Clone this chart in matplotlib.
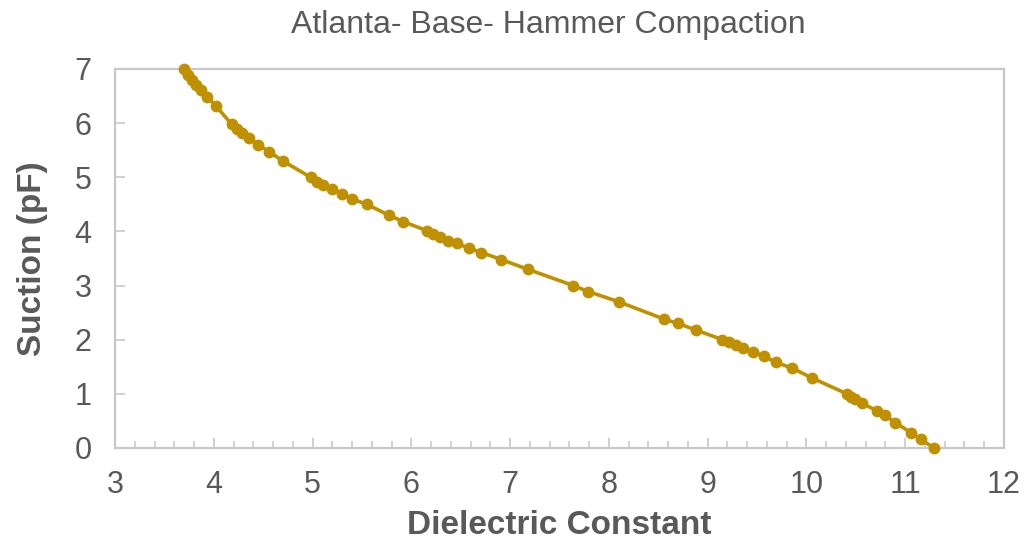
import matplotlib
matplotlib.use("Agg")
import matplotlib.pyplot as plt
from matplotlib.ticker import MultipleLocator

plt.rcParams['font.family'] = ['Liberation Sans', 'DejaVu Sans']

# Dielectric constant vs. suction measurements
dielectric = [3.70, 3.74, 3.78, 3.82, 3.87, 3.93, 4.02, 4.18, 4.23, 4.29, 4.36,
              4.45, 4.56, 4.70, 4.98, 5.04, 5.11, 5.20, 5.30, 5.40, 5.55, 5.77,
              5.92, 6.16, 6.22, 6.29, 6.37, 6.46, 6.58, 6.71, 6.91, 7.18, 7.64,
              7.79, 8.10, 8.56, 8.70, 8.88, 9.15, 9.22, 9.29, 9.36, 9.46, 9.57,
              9.69, 9.85, 10.06, 10.41, 10.45, 10.49, 10.56, 10.71, 10.80, 10.90,
              11.06, 11.16, 11.29]
suction = [7.00, 6.89, 6.80, 6.70, 6.61, 6.49, 6.32, 5.98, 5.90, 5.81, 5.72,
           5.60, 5.47, 5.30, 5.00, 4.92, 4.86, 4.78, 4.70, 4.60, 4.50, 4.30,
           4.18, 4.01, 3.95, 3.89, 3.83, 3.78, 3.69, 3.61, 3.48, 3.30, 3.00,
           2.89, 2.70, 2.38, 2.30, 2.18, 2.00, 1.95, 1.90, 1.84, 1.77, 1.70,
           1.58, 1.48, 1.29, 1.00, 0.95, 0.90, 0.83, 0.69, 0.60, 0.47,
           0.28, 0.16, 0.00]

x_ticks = [3, 4, 5, 6, 7, 8, 9, 10, 11, 12]
y_ticks = [0, 1, 2, 3, 4, 5, 6, 7]

text_color = '#595959'
frame_color = '#c8c8c8'
series_color = '#bf9000'

fig = plt.figure(figsize=(10.29, 5.44), dpi=100)
ax = fig.add_axes([0.1118, 0.1765, 0.8639, 0.6967])

ax.plot(dielectric, suction, color=series_color, linewidth=2.6,
        marker='o', markersize=8.5, markeredgewidth=0, clip_on=False, zorder=3)

ax.set_xlim(3, 12)
ax.set_ylim(0, 7)
ax.set_xticks(x_ticks)
ax.set_yticks(y_ticks)
ax.xaxis.set_minor_locator(MultipleLocator(0.2))

for side in ax.spines.values():
    side.set_color(frame_color)
    side.set_linewidth(1.6)

ax.tick_params(axis='both', which='both', direction='in', color=frame_color,
               width=1.2, labelcolor=text_color, labelsize=22)
ax.tick_params(axis='x', which='major', length=7, pad=16)
ax.tick_params(axis='x', which='minor', length=5)
ax.tick_params(axis='y', which='major', length=7, pad=17)
ax.tick_params(top=False, right=False)

ax.set_xlabel('Dielectric Constant', fontsize=24, fontweight='bold',
              color=text_color, labelpad=7)
ax.set_ylabel('Suction (pF)', fontsize=24, fontweight='bold',
              color=text_color, labelpad=19)
ax.set_title('Atlanta- Base- Hammer Compaction', fontsize=23,
             color=text_color, pad=26, x=0.487)

fig.savefig('out.png', dpi=100)
